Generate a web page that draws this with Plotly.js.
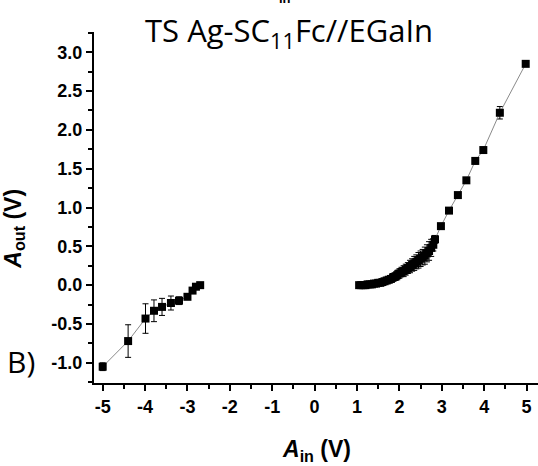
<!DOCTYPE html>
<html><head><meta charset="utf-8">
<script src="https://cdn.plot.ly/plotly-3.0.1.min.js"></script>
<style>html,body{margin:0;padding:0;background:#fff}#chart{width:538px;height:466px}</style>
</head><body><div id="chart"></div>
<script>
// Negative branch
const negX = [-5.00, -4.40, -3.99, -3.79, -3.60, -3.39, -3.20, -3.00, -2.88, -2.80, -2.70];
const negY = [-1.05, -0.72, -0.43, -0.33, -0.28, -0.23, -0.20, -0.15, -0.07, -0.02, 0.00];
const negErr = [0.05, 0.21, 0.19, 0.14, 0.11, 0.09, 0.05, 0.03, 0.02, 0.02, 0.02];
// Positive branch
const posX = [1.05,1.10,1.15,1.20,1.25,1.30,1.35,1.40,1.45,1.50,1.55,1.60,1.65,1.70,1.75,1.80,1.85,1.90,1.95,2.00,
              2.05,2.10,2.15,2.20,2.25,2.30,2.35,2.40,2.45,2.50,2.55,2.60,2.65,2.70,2.75,2.80,
              2.84,2.98,3.17,3.38,3.58,3.79,3.98,4.37,4.98];
const posY = [0.00,0.00,0.00,0.00,0.01,0.01,0.01,0.02,0.02,0.03,0.03,0.04,0.05,0.06,0.07,0.08,0.10,0.11,0.13,0.15,
              0.17,0.18,0.20,0.22,0.24,0.26,0.28,0.30,0.32,0.34,0.36,0.38,0.41,0.44,0.48,0.52,
              0.59,0.76,0.96,1.16,1.35,1.60,1.74,2.22,2.85];
const posErr = [0.01,0.01,0.01,0.01,0.01,0.02,0.02,0.02,0.02,0.02,0.03,0.03,0.03,0.04,0.04,0.04,0.05,0.05,0.06,0.06,
                0.06,0.07,0.07,0.07,0.08,0.08,0.09,0.09,0.10,0.10,0.10,0.11,0.11,0.12,0.11,0.08,
                0.05,0.03,0.03,0.02,0.02,0.04,0.02,0.08,0.03];
// Tick labels
const xTickVals = [-5,-4,-3,-2,-1,0,1,2,3,4,5];
const xTickText = ["-5","-4","-3","-2","-1","0","1","2","3","4","5"];
const yTickVals = [-1.0,-0.5,0.0,0.5,1.0,1.5,2.0,2.5,3.0];
const yTickText = ["-1.0","-0.5","0.0","0.5","1.0","1.5","2.0","2.5","3.0"];

function series(x, y, e) {
  return {
    x: x, y: y, type: 'scatter', mode: 'lines+markers',
    line: {color: '#8a8a8a', width: 1},
    marker: {symbol: 'square', size: 8, color: '#000'},
    error_y: {type: 'data', array: e, visible: true, color: '#000', thickness: 1, width: 3},
    showlegend: false, hoverinfo: 'skip'
  };
}
const tickFont = {family: 'Liberation Sans, Arial, sans-serif', size: 18, color: '#000', weight: 'bold'};
const axisCommon = {
  showline: true, linewidth: 2, linecolor: '#000', mirror: false,
  showgrid: false, zeroline: false,
  ticks: 'outside', ticklen: 6, tickwidth: 2, tickcolor: '#000',
  tickfont: tickFont, fixedrange: true
};
const layout = {
  width: 538, height: 466,
  margin: {l: 94, r: 0, t: 32, b: 83, pad: 0},
  paper_bgcolor: '#fff', plot_bgcolor: '#fff',
  xaxis: Object.assign({}, axisCommon, {
    range: [-5.205, 5.27], tickmode: 'array', tickvals: xTickVals, ticktext: xTickText,
    minor: {dtick: 0.5, ticks: 'outside', ticklen: 4, tickwidth: 2, tickcolor: '#000'}
  }),
  yaxis: Object.assign({}, axisCommon, {
    range: [-1.26, 3.26], tickmode: 'array', tickvals: yTickVals, ticktext: yTickText,
    minor: {dtick: 0.25, ticks: 'outside', ticklen: 4, tickwidth: 2, tickcolor: '#000'}
  }),
  annotations: [
    {text: 'TS Ag-SC<sub>11</sub>Fc//EGaIn', xref: 'paper', yref: 'paper', x: 0.44, y: 1.0, xanchor: 'center', yanchor: 'middle',
     yshift: 0, showarrow: false, font: {family: 'Open Sans, sans-serif', size: 31, color: '#000'}},
    {text: '<b>in</b>', xref: 'paper', yref: 'paper', x: 0.43, y: 1.0, xanchor: 'center', yanchor: 'middle',
     yshift: 34, showarrow: false, font: {family: 'Liberation Sans, Arial, sans-serif', size: 13, color: '#000'}},
    {text: 'B)', xref: 'paper', yref: 'paper', x: -0.2, y: 0.06, xanchor: 'left', yanchor: 'middle',
     showarrow: false, font: {family: 'Open Sans, sans-serif', size: 30, color: '#000'}},
    {text: '<b><i>A</i><sub>out</sub> (V)</b>', xref: 'paper', yref: 'paper', x: -0.18, y: 0.44, xanchor: 'center', yanchor: 'middle',
     textangle: -90, showarrow: false, font: {family: 'Liberation Sans, Arial, sans-serif', size: 23, color: '#000'}},
    {text: '<b><i>A</i><sub>in</sub> (V)</b>', xref: 'paper', yref: 'paper', x: 0.5, y: 0, xanchor: 'center', yanchor: 'middle',
     yshift: -67, showarrow: false, font: {family: 'Liberation Sans, Arial, sans-serif', size: 23, color: '#000'}}
  ]
};
Plotly.newPlot('chart', [series(negX, negY, negErr), series(posX, posY, posErr)], layout, {staticPlot: true, displayModeBar: false});
</script>
</body></html>
